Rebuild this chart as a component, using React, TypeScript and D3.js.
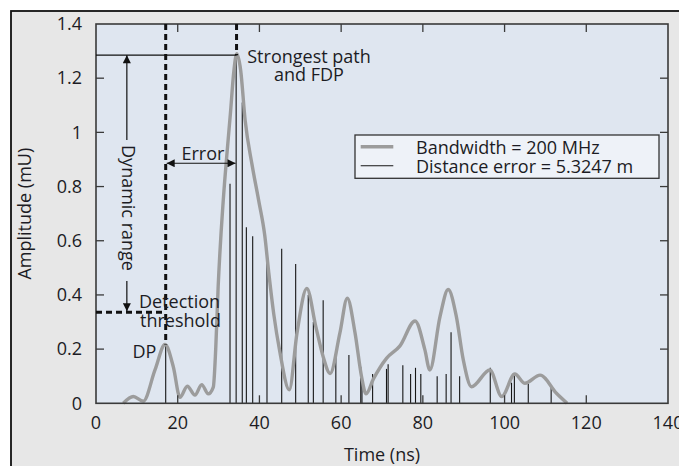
import React from "react";
import * as d3 from "d3";

const xTicks = [0, 20, 40, 60, 80, 100, 120, 140];
const yTicks = [0, 0.2, 0.4, 0.6, 0.8, 1, 1.2, 1.4];

// Gray smoothed response (Bandwidth = 200 MHz)
const curveTime = [6.68, 9.13, 11.58, 14.44, 16.89, 18.92, 20.56, 22.34, 24.23, 25.87, 27.48, 28.71, 29.3, 29.9, 31.15, 32.1, 32.9, 33.7, 34.45, 35.4, 36.5, 38.2, 39.8, 41.3, 42.3, 43.5, 45.0, 47.3, 49.2, 51.6, 53.8, 55.6, 57.3, 59.7, 61.5, 63.4, 65.0, 66.1, 67.9, 71.1, 74.4, 78.1, 80.5, 81.7, 84.2, 86.2, 88.2, 89.9, 91.9, 96.4, 99.3, 102.5, 105.0, 108.7, 112.7, 115.3];
const curveAmp = [0, 0.025, 0.008, 0.123, 0.217, 0.135, 0.022, 0.063, 0.03, 0.069, 0.035, 0.06, 0.2, 0.43, 0.75, 0.93, 1.07, 1.22, 1.29, 1.23, 1.045, 0.88, 0.75, 0.62, 0.48, 0.33, 0.19, 0.05, 0.26, 0.424, 0.283, 0.172, 0.11, 0.26, 0.388, 0.26, 0.098, 0.035, 0.09, 0.166, 0.212, 0.304, 0.197, 0.123, 0.32, 0.42, 0.32, 0.16, 0.061, 0.123, 0.025, 0.108, 0.074, 0.104, 0.037, 0];

// Black impulse stems (channel paths)
const stemTime = [17.06, 32.8, 34.3, 35.8, 36.8, 38.35, 41.85, 45.45, 48.87, 51.95, 53.2, 55.6, 58.7, 61.9, 64.8, 65.1, 67.7, 71.1, 71.5, 75.1, 77.0, 78.2, 79.5, 83.5, 85.7, 86.9, 89.0, 96.5, 101.7, 102.4, 105.8, 111.4];
const stemAmp = [0.217, 0.81, 1.28, 1.11, 0.65, 0.617, 0.531, 0.57, 0.514, 0.4, 0.3, 0.38, 0.197, 0.178, 0.135, 0.1, 0.108, 0.127, 0.144, 0.14, 0.108, 0.131, 0.108, 0.1, 0.108, 0.262, 0.1, 0.131, 0.076, 0.103, 0.072, 0.065];

const legendLabels = ["Bandwidth = 200 MHz", "Distance error = 5.3247 m"];

const W = 679;
const H = 466;
const FONT = "'Open Sans', 'Noto Sans', sans-serif";
const TXT = "#1c1c24";

export default function App() {
  const x = d3.scaleLinear().domain([0, 140]).range([96, 668]);
  const y = d3.scaleLinear().domain([0, 1.4]).range([403.3, 24]);
  const line = d3
    .line<number>()
    .x((_, i) => x(curveTime[i]))
    .y((d) => y(d))
    .curve(d3.curveMonotoneX);
  const curvePath = line(curveAmp) || "";

  const x0 = x(0), x1 = x(140), y0 = y(0), y1 = y(1.4);
  const tl = 8;

  const dpT = 17.06, dpA = 0.217;
  const spT = 34.4, spA = 1.285;
  const thr = 0.336;
  const drT = 7.55;
  const errA = 0.886;

  return (
    <svg width={W} height={H} style={{ position: "absolute", left: 0, top: 0 }} fontFamily={FONT}>
      <defs>
        <marker id="ah" viewBox="0 0 10 10" refX="10" refY="5" markerWidth="9" markerHeight="8" markerUnits="userSpaceOnUse" orient="auto-start-reverse">
          <path d="M0,0 L10,5 L0,10 z" fill="#111" />
        </marker>
      </defs>
      <rect x={0} y={0} width={W} height={H} fill="#ffffff" />
      <rect x={11} y={11} width={W + 20} height={H + 20} fill="#e7e7e7" stroke="#111" strokeWidth={1.8} />
      <rect x={x0} y={y1} width={x1 - x0} height={y0 - y1} fill="#dfe6f0" />

      {/* stems */}
      {stemTime.map((t, i) => (
        <line key={"s" + i} x1={x(t)} x2={x(t)} y1={y0} y2={y(stemAmp[i])} stroke="#151515" strokeWidth={1.1} />
      ))}
      {/* curve */}
      <path d={curvePath} fill="none" stroke="#9c9c9c" strokeWidth={3.4} strokeLinejoin="round" />

      {/* frame and ticks */}
      <rect x={x0} y={y1} width={x1 - x0} height={y0 - y1} fill="none" stroke="#3a3a3a" strokeWidth={1.6} />
      {xTicks.filter((t) => t > 0 && t < 140).map((t) => (
        <g key={"xt" + t}>
          <line x1={x(t)} x2={x(t)} y1={y0} y2={y0 - tl} stroke="#3a3a3a" strokeWidth={1.3} />
          <line x1={x(t)} x2={x(t)} y1={y1} y2={y1 + tl} stroke="#3a3a3a" strokeWidth={1.3} />
        </g>
      ))}
      {yTicks.filter((t) => t > 0 && t < 1.4).map((t) => (
        <g key={"yt" + t}>
          <line x1={x0} x2={x0 + tl} y1={y(t)} y2={y(t)} stroke="#3a3a3a" strokeWidth={1.3} />
          <line x1={x1} x2={x1 - tl} y1={y(t)} y2={y(t)} stroke="#3a3a3a" strokeWidth={1.3} />
        </g>
      ))}
      {xTicks.map((t) => (
        <text key={"xl" + t} x={x(t)} y={429} textAnchor="middle" fontSize={18} fill={TXT}>
          {t}
        </text>
      ))}
      {yTicks.map((t) => (
        <text key={"yl" + t} x={82} y={y(t)} dy="0.35em" textAnchor="end" fontSize={18} fill={TXT}>
          {String(+t.toFixed(1))}
        </text>
      ))}
      <text x={(x0 + x1) / 2} y={461} textAnchor="middle" fontSize={18} fill={TXT}>
        Time (ns)
      </text>
      <text transform={`translate(31,${(y0 + y1) / 2}) rotate(-90)`} textAnchor="middle" fontSize={18} fill={TXT}>
        Amplitude (mU)
      </text>

      {/* annotations */}
      <line x1={x0} x2={x(spT)} y1={y(spA)} y2={y(spA)} stroke="#111" strokeWidth={1.1} />
      <line x1={x(dpT)} x2={x(dpT)} y1={y1} y2={y(dpA)} stroke="#111" strokeWidth={3} strokeDasharray="6,4" />
      <line x1={x(spT)} x2={x(spT)} y1={y1} y2={y(spA)} stroke="#111" strokeWidth={3} strokeDasharray="6,4" />
      <line x1={x0} x2={x(dpT)} y1={y(thr)} y2={y(thr)} stroke="#111" strokeWidth={3} strokeDasharray="6,4" />

      <line x1={x(drT)} x2={x(drT)} y1={140} y2={y(spA)} stroke="#111" strokeWidth={1.2} markerEnd="url(#ah)" />
      <line x1={x(drT)} x2={x(drT)} y1={281} y2={y(thr) - 1} stroke="#111" strokeWidth={1.2} markerEnd="url(#ah)" />
      <text transform={`translate(${x(drT) + 1},${208}) rotate(90)`} textAnchor="middle" dy="0.35em" fontSize={18} fill={TXT}>
        Dynamic range
      </text>

      <line x1={x(dpT) + 1} x2={x(spT) - 1} y1={y(errA)} y2={y(errA)} stroke="#111" strokeWidth={1.2} markerStart="url(#ah)" markerEnd="url(#ah)" />
      <text x={181.5} y={160} fontSize={18} fill={TXT}>Error</text>

      <text x={309} y={63} textAnchor="middle" fontSize={18} fill={TXT}>Strongest path</text>
      <text x={309} y={81} textAnchor="middle" fontSize={18} fill={TXT}>and FDP</text>

      <text x={139} y={308} fontSize={18} fill={TXT}>Detection</text>
      <text x={140} y={327} fontSize={18} fill={TXT}>threshold</text>
      <text x={132.5} y={358} fontSize={18} fill={TXT}>DP</text>

      {/* legend */}
      <rect x={355} y={135} width={304} height={43.3} fill="#eef2f8" stroke="#333" strokeWidth={1.3} />
      <line x1={360.7} x2={393.3} y1={146.7} y2={146.7} stroke="#9c9c9c" strokeWidth={3.4} />
      <line x1={360.7} x2={393.3} y1={165.7} y2={165.7} stroke="#151515" strokeWidth={1.1} />
      <text x={416} y={154.3} fontSize={18} fill={TXT}>{legendLabels[0]}</text>
      <text x={416} y={173.3} fontSize={18} fill={TXT}>{legendLabels[1]}</text>
    </svg>
  );
}
